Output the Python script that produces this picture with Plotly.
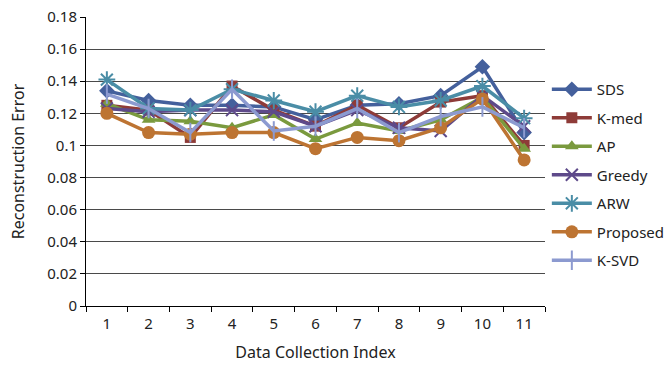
import plotly.graph_objects as go

categories = ["1", "2", "3", "4", "5", "6", "7", "8", "9", "10", "11"]
sds      = [0.134, 0.128, 0.125, 0.125, 0.124, 0.116, 0.125, 0.126, 0.131, 0.149, 0.108]
kmed     = [0.125, 0.122, 0.105, 0.137, 0.122, 0.112, 0.125, 0.111, 0.127, 0.131, 0.100]
ap       = [0.126, 0.116, 0.115, 0.111, 0.119, 0.104, 0.114, 0.109, 0.116, 0.130, 0.098]
greedy   = [0.123, 0.121, 0.122, 0.122, 0.121, 0.112, 0.122, 0.111, 0.109, 0.131, 0.112]
arw      = [0.141, 0.123, 0.122, 0.135, 0.128, 0.121, 0.131, 0.124, 0.128, 0.137, 0.117]
proposed = [0.120, 0.108, 0.107, 0.108, 0.108, 0.098, 0.105, 0.103, 0.111, 0.129, 0.091]
ksvd     = [0.132, 0.123, 0.108, 0.135, 0.109, 0.112, 0.123, 0.108, 0.118, 0.124, 0.111]
y_ticks = [0, 0.02, 0.04, 0.06, 0.08, 0.1, 0.12, 0.14, 0.16, 0.18]
y_tick_labels = ["0", "0.02", "0.04", "0.06", "0.08", "0.1", "0.12", "0.14", "0.16", "0.18"]

series = [
    ("SDS", sds, "#44609C", "diamond", 12, 0),
    ("K-med", kmed, "#8E3B38", "square", 11, 0),
    ("AP", ap, "#7A9A3E", "triangle-up", 12, 0),
    ("Greedy", greedy, "#5E4A8A", "x-thin-open", 12, 2),
    ("ARW", arw, "#4A8DA6", "asterisk-open", 14, 2),
    ("Proposed", proposed, "#BD7432", "circle", 13, 0),
    ("K-SVD", ksvd, "#8C9AD0", "line-ns-open", 14, 2),
]

fig = go.Figure()
for i, (name, vals, color, sym, size, lw) in enumerate(series):
    marker = dict(symbol=sym, size=size, color=color)
    if lw:
        marker["line"] = dict(color=color, width=lw)
    fig.add_trace(go.Scatter(
        x=categories, y=vals, name=name, mode="lines+markers",
        line=dict(color=color, width=3.5), marker=marker,
        legendgroup=f"g{i}",
    ))

fig.update_layout(
    width=665, height=367,
    margin=dict(l=86, r=120, t=17, b=61, autoexpand=False),
    paper_bgcolor="white", plot_bgcolor="white",
    font=dict(family="Noto Sans, Open Sans, sans-serif", size=15, color="#222222"),
    showlegend=True,
    legend=dict(x=1.004, y=0.806, xanchor="left", yanchor="top",
                tracegroupgap=6, font=dict(size=15), itemwidth=40,
                bgcolor="rgba(0,0,0,0)"),
    xaxis=dict(type="category", title=dict(text="Data Collection Index", font=dict(size=16), standoff=14),
               showline=True, linecolor="black", linewidth=1,
               ticks="outside", tickson="boundaries", ticklen=5, tickcolor="black",
               ticklabelstandoff=4,
               showgrid=False, range=[-0.5, 10.5]),
    yaxis=dict(title=dict(text="Reconstruction Error", font=dict(size=16), standoff=18),
               range=[0, 0.18], tickvals=y_ticks, ticktext=y_tick_labels,
               showline=True, linecolor="black", linewidth=1,
               ticks="outside", ticklen=5, tickcolor="black",
               showgrid=True, gridcolor="#4a4a4a", gridwidth=1, zeroline=False),
)

fig.write_html("out.html")
